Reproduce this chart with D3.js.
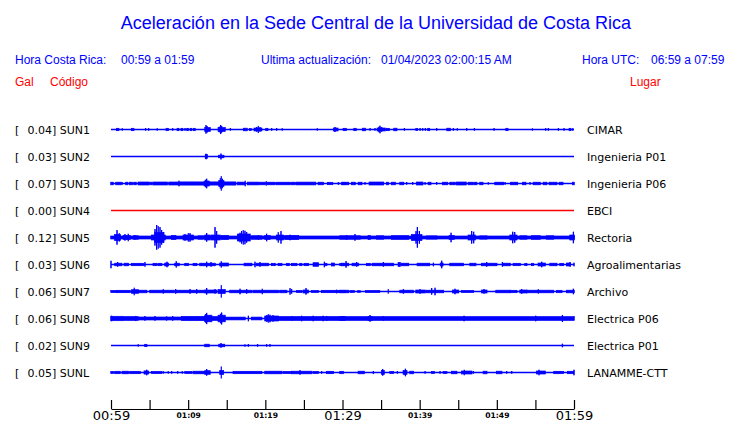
<!DOCTYPE html>
<html><head><meta charset="utf-8">
<script src="https://cdn.jsdelivr.net/npm/d3@7"></script>
<style>body{margin:0;background:#fff}svg{display:block}</style>
</head><body><script>
// ---------- data ----------
const stations = ["SUN1","SUN2","SUN3","SUN4","SUN5","SUN6","SUN7","SUN8","SUN9","SUNL"];
const places = ["CIMAR","Ingenieria P01","Ingenieria P06","EBCI","Rectoria","Agroalimentarias","Archivo","Electrica P06","Electrica P01","LANAMME-CTT"];
const peakGal = [0.04,0.03,0.07,0.00,0.12,0.03,0.06,0.06,0.02,0.05];
const majorTickLabels = ["00:59","01:29","01:59"];
const minorTickLabels = ["01:09","01:19","01:39","01:49"];
// each trace: [startMinute, endMinute, half amplitude in Gal]
const sun1 = [[0.73,0.99,0.012],[1.47,1.47,0.01],[2.68,2.94,0.012],[4.49,4.49,0.01],[4.88,4.88,0.01],[6.0,6.0,0.01],[7.17,7.39,0.012],[7.99,7.99,0.01],[8.6,8.77,0.012],[9.1,9.28,0.012],[9.59,9.59,0.01],[9.85,9.98,0.012],[10.28,10.45,0.012],[10.71,10.88,0.012],[12.18,12.83,0.02],[12.31,12.31,0.04],[12.45,12.45,0.03],[13.91,14.77,0.02],[14.21,14.21,0.042],[14.34,14.34,0.03],[14.05,14.05,0.025],[15.47,15.47,0.01],[17.19,17.62,0.013],[17.97,18.14,0.01],[18.57,19.52,0.015],[19.09,19.09,0.033],[18.88,18.88,0.02],[19.31,19.31,0.02],[20.09,20.3,0.012],[20.82,20.82,0.01],[21.47,21.47,0.01],[22.2,22.2,0.01],[26.74,26.74,0.01],[28.86,29.38,0.015],[29.03,29.03,0.022],[30.11,30.11,0.01],[30.2,30.46,0.012],[31.5,31.75,0.012],[32.62,32.96,0.013],[33.57,33.57,0.01],[34.21,34.21,0.01],[34.52,35.51,0.015],[34.86,34.86,0.035],[34.73,34.73,0.025],[35.08,35.08,0.02],[35.73,36.03,0.012],[36.68,37.02,0.013],[38.02,38.02,0.01],[39.53,39.7,0.01],[40.05,40.05,0.01],[40.39,40.39,0.01],[40.74,40.74,0.01],[41.08,41.26,0.012],[42.21,42.21,0.01],[43.55,43.94,0.013],[44.37,44.37,0.01],[44.88,44.88,0.01],[46.1,46.1,0.01],[47.09,47.09,0.01],[49.64,49.64,0.01],[51.2,51.41,0.012],[54.61,54.61,0.008],[56.33,56.33,0.01],[56.68,56.68,0.01],[57.98,57.98,0.01],[58.71,58.71,0.01],[59.4,59.57,0.012],[59.84,59.84,0.01]];
const sun2 = [[12.25,12.45,0.02],[12.31,12.31,0.025],[13.95,14.6,0.013],[14.25,14.25,0.027]];
const sun3 = [[0.0,0.26,0.013],[0.65,1.3,0.013],[1.47,1.47,0.01],[1.94,2.16,0.013],[2.42,2.76,0.013],[2.98,3.24,0.013],[3.54,4.92,0.015],[5.1,5.31,0.013],[5.49,7.3,0.015],[7.52,8.72,0.015],[8.81,8.81,0.025],[8.94,12.1,0.016],[12.1,12.7,0.025],[12.4,12.4,0.045],[12.27,12.27,0.035],[12.7,14.0,0.016],[14.0,14.6,0.03],[14.3,14.3,0.07],[14.17,14.17,0.05],[14.43,14.43,0.045],[14.6,16.15,0.016],[16.4,17.3,0.014],[17.4,17.4,0.025],[17.7,19.1,0.014],[19.3,19.96,0.013],[20.13,20.13,0.02],[20.3,21.25,0.013],[21.47,23.2,0.013],[23.4,23.85,0.013],[24.06,26.5,0.014],[26.87,27.5,0.013],[28.08,28.7,0.012],[29.46,29.5,0.01],[30.06,30.28,0.012],[29.9,30.76,0.013],[31.2,31.62,0.013],[32.06,32.49,0.013],[32.92,32.92,0.01],[33.48,35.3,0.015],[35.73,35.94,0.013],[36.38,36.81,0.013],[37.46,37.9,0.013],[38.32,38.32,0.01],[39.1,39.1,0.01],[39.62,40.39,0.015],[40.7,40.7,0.01],[41.13,41.43,0.013],[42.21,42.21,0.01],[42.99,43.59,0.013],[43.94,44.58,0.013],[44.8,46.0,0.015],[46.31,46.87,0.013],[47.05,47.39,0.013],[47.82,48.17,0.013],[48.9,48.9,0.01],[49.77,50.85,0.013],[51.07,51.07,0.01],[51.8,52.66,0.013],[53.35,53.74,0.013],[54.3,54.3,0.01],[54.74,55.6,0.013],[56.03,56.46,0.013],[56.81,57.16,0.013],[57.33,57.76,0.013],[58.1,58.54,0.013],[59.83,60,0.013]];
const sun4 = [];
const sun5 = [[0,60,0.015],[0.5,1.2,0.03],[0.78,0.78,0.07],[1.08,1.08,0.04],[1.6,2.46,0.02],[1.81,1.81,0.03],[2.24,2.24,0.035],[2.89,3.54,0.017],[3.11,3.11,0.02],[5.27,7.0,0.025],[5.7,6.8,0.05],[5.92,5.92,0.12],[6.13,6.13,0.11],[6.35,6.35,0.1],[5.7,5.7,0.08],[6.56,6.56,0.07],[6.82,6.82,0.05],[7.86,8.38,0.02],[9.37,10.67,0.025],[9.59,9.59,0.03],[10.02,10.02,0.04],[10.24,10.24,0.04],[11.32,11.96,0.017],[12.18,12.83,0.025],[12.4,12.4,0.04],[13.04,14.12,0.025],[13.48,13.48,0.1],[13.69,13.69,0.06],[14.34,15.2,0.02],[16.41,18.01,0.035],[16.72,16.72,0.045],[16.93,16.93,0.06],[17.15,17.15,0.07],[17.36,17.36,0.065],[17.58,17.58,0.05],[18.23,19.52,0.017],[19.09,19.09,0.02],[19.96,20.6,0.02],[20.17,20.17,0.035],[21.47,22.33,0.025],[21.68,21.68,0.05],[22.03,22.03,0.06],[22.55,24.28,0.02],[23.2,23.2,0.025],[29.68,32.27,0.017],[30.54,30.54,0.02],[31.62,31.62,0.03],[33.35,33.57,0.02],[34.43,35.3,0.017],[36.38,38.54,0.018],[38.97,40.26,0.03],[39.53,39.53,0.06],[39.7,39.7,0.1],[39.96,39.96,0.06],[40.91,42.21,0.016],[43.85,44.45,0.02],[44.07,44.07,0.045],[46.31,47.18,0.025],[46.74,46.74,0.06],[47.0,47.0,0.055],[47.82,48.69,0.016],[51.71,52.58,0.025],[52.06,52.06,0.055],[52.32,52.32,0.05],[53.01,53.87,0.017],[54.52,55.6,0.018],[56.46,57.33,0.017],[59.49,60,0.025],[59.92,59.92,0.055]];
const sun6 = [[0,0,0.035],[0.52,1.38,0.013],[0.86,0.86,0.02],[1.73,2.24,0.013],[2.68,4.19,0.012],[4.4,4.4,0.02],[5.48,5.92,0.012],[6.13,6.56,0.012],[7.0,7.43,0.015],[7.26,7.26,0.025],[8.29,8.81,0.013],[8.46,8.46,0.03],[9.59,10.02,0.012],[10.67,11.1,0.012],[11.53,13.48,0.013],[12.4,12.4,0.025],[12.96,12.96,0.02],[14.12,15.2,0.015],[14.3,14.3,0.03],[17.28,18.23,0.013],[18.66,18.66,0.025],[18.88,20.39,0.013],[19.31,19.31,0.02],[20.82,21.25,0.012],[21.68,22.12,0.012],[22.76,23.07,0.012],[23.41,24.06,0.012],[24.49,24.71,0.012],[25.05,25.57,0.012],[26.22,26.87,0.018],[27.65,27.65,0.025],[27.73,27.95,0.012],[28.6,28.94,0.015],[29.68,30.11,0.012],[29.9,30.76,0.013],[30.46,30.46,0.03],[31.28,32.06,0.013],[31.84,31.84,0.02],[33.14,33.57,0.012],[33.87,36.59,0.013],[35.3,35.3,0.02],[37.24,37.46,0.02],[37.67,38.54,0.013],[39.7,41.26,0.013],[41.78,41.78,0.015],[42.86,42.86,0.035],[42.7,43.0,0.015],[43.94,45.66,0.013],[46.53,47.26,0.013],[48.04,49.98,0.013],[48.69,48.69,0.02],[50.72,50.72,0.02],[50.85,51.71,0.013],[52.14,53.01,0.012],[53.66,53.87,0.012],[54.52,54.74,0.012],[55.38,56.25,0.015],[55.82,55.82,0.025],[56.9,57.76,0.013],[58.19,58.62,0.012],[59.06,59.49,0.015],[59.49,59.49,0.02],[60,60,0.015]];
const sun7 = [[0,0.73,0.01],[0.73,2.46,0.012],[2.68,3.54,0.018],[3.02,3.02,0.035],[3.54,4.62,0.013],[5.05,8.08,0.013],[6.78,6.78,0.02],[8.29,12.18,0.013],[8.38,8.38,0.02],[10.24,10.24,0.02],[11.1,11.1,0.02],[12.18,13.69,0.015],[12.4,12.4,0.03],[13.48,13.48,0.02],[13.91,14.77,0.02],[14.3,14.3,0.06],[15.42,18.23,0.013],[16.72,16.72,0.025],[17.58,17.58,0.02],[18.44,21.68,0.013],[19.61,19.61,0.025],[21.9,22.76,0.013],[23.2,23.2,0.03],[23.41,23.41,0.02],[24.06,24.71,0.01],[24.92,25.57,0.015],[25.27,25.27,0.03],[26.0,26.87,0.01],[27.3,30.32,0.012],[29.24,29.24,0.015],[29.68,30.76,0.013],[31.0,31.5,0.01],[32.0,32.3,0.008],[33.0,34.8,0.01],[35.94,35.94,0.02],[37.46,39.18,0.013],[37.89,37.89,0.02],[39.53,40.7,0.015],[40.05,40.05,0.02],[40.91,43.07,0.013],[41.56,41.56,0.03],[41.99,41.99,0.035],[44.28,45.02,0.015],[44.58,44.58,0.025],[45.45,46.96,0.01],[48.04,48.69,0.015],[48.34,48.34,0.02],[49.9,51.71,0.013],[51.71,52.58,0.012],[53.01,53.87,0.015],[53.22,53.22,0.02],[53.87,57.33,0.013],[55.38,55.38,0.02],[57.76,58.41,0.012],[59.06,60,0.013],[59.92,59.92,0.025]];
const sun8 = [[0,1.6,0.022],[0.08,0.08,0.025],[1.6,12.2,0.015],[1.8,3.5,0.018],[3.2,3.2,0.022],[4.4,4.4,0.02],[5.7,5.7,0.02],[7.2,7.2,0.018],[8.0,8.0,0.02],[9.16,12.18,0.02],[12.18,13.04,0.033],[12.4,12.4,0.053],[12.27,12.27,0.04],[13.04,13.91,0.02],[13.91,14.77,0.033],[14.34,14.34,0.057],[14.2,14.2,0.045],[14.77,17.36,0.014],[17.8,17.8,0.025],[18.23,19.52,0.014],[19.96,21.68,0.025],[20.39,20.39,0.04],[20.6,20.6,0.035],[20.2,20.2,0.03],[21.0,21.0,0.03],[21.68,23.41,0.02],[23.41,30.32,0.02],[24.7,24.7,0.025],[26.2,26.2,0.025],[27.5,27.5,0.025],[27.95,27.95,0.022],[29.68,60,0.019],[33.35,33.8,0.022],[33.57,33.57,0.03],[35.3,35.3,0.02],[45.75,45.75,0.025],[55.04,55.04,0.025],[58.5,58.5,0.032]];
const sun9 = [[3.54,3.54,0.01],[4.4,4.62,0.012],[12.18,12.7,0.013],[14.0,14.7,0.013],[14.25,14.25,0.02],[17.36,17.36,0.008],[17.8,17.8,0.01],[19.0,19.0,0.01],[20.17,20.17,0.01],[20.6,20.6,0.01],[58.5,58.5,0.015]];
const sunl = [[0,0.3,0.01],[0.52,1.16,0.012],[1.47,2.24,0.013],[2.46,3.76,0.012],[4.32,4.84,0.016],[4.62,4.62,0.025],[5.27,6.56,0.01],[6.78,6.78,0.01],[7.43,7.43,0.01],[7.86,7.86,0.01],[8.64,8.64,0.01],[9.24,9.24,0.01],[9.59,10.45,0.01],[10.67,12.18,0.013],[12.18,12.83,0.018],[12.4,12.4,0.03],[14.12,14.56,0.02],[14.3,14.3,0.057],[15.85,19.52,0.012],[19.96,22.12,0.013],[22.33,23.41,0.01],[23.41,26.0,0.013],[24.49,24.49,0.02],[26.22,26.87,0.01],[27.3,27.3,0.01],[27.95,28.81,0.012],[29.68,30.11,0.012],[32.06,32.79,0.013],[34.0,34.0,0.012],[35.08,35.38,0.02],[35.21,35.21,0.03],[36.16,36.59,0.01],[37.11,37.11,0.01],[37.89,38.32,0.02],[38.15,38.15,0.035],[38.75,39.18,0.013],[40.7,40.7,0.01],[41.56,41.9,0.01],[42.64,42.64,0.01],[43.07,43.5,0.01],[44.15,44.8,0.013],[45.45,46.74,0.015],[45.79,45.79,0.025],[46.96,46.96,0.01],[48.26,48.69,0.013],[49.98,50.63,0.013],[51.28,51.28,0.01],[51.93,51.93,0.01],[55.17,56.25,0.015],[55.47,55.47,0.025],[57.41,58.19,0.012],[58.32,58.62,0.01],[59.19,59.92,0.012],[60,60,0.025]];
const traces = [sun1,sun2,sun3,sun4,sun5,sun6,sun7,sun8,sun9,sunl];

// ---------- drawing ----------
const W = 740, H = 423;
const BLUE = "#0000ff", RED = "#ff0000";
const svg = d3.select("body").append("svg").attr("width", W).attr("height", H);

const t0 = new Date(2023, 0, 4, 0, 59);
const at = m => new Date(+t0 + m * 60000);
const x = d3.scaleTime().domain([at(0), at(60)]).range([111, 574]);
const y = d3.scalePoint().domain(stations).range([129.5, 372.5]);
const amp = d3.scaleLinear().domain([-0.135, 0.135]).range([13.5, -13.5]);

// header
svg.append("text").attr("x", 376).attr("y", 29).attr("text-anchor", "middle")
  .attr("font-family", "Liberation Sans, Arial, sans-serif").attr("font-size", 18)
  .attr("fill", BLUE).text("Aceleración en la Sede Central de la Universidad de Costa Rica");
const hdr = [
  [15, 64, "Hora Costa Rica:", BLUE], [121, 64, "00:59 a 01:59", BLUE],
  [261, 64, "Ultima actualización:", BLUE], [381, 64, "01/04/2023 02:00:15 AM", BLUE],
  [582, 64, "Hora UTC:", BLUE], [651, 64, "06:59 a 07:59", BLUE],
  [15, 86, "Gal", RED], [50, 86, "Código", RED], [630, 86, "Lugar", RED]
];
svg.append("g").selectAll("text").data(hdr).join("text")
  .attr("x", d => d[0]).attr("y", d => d[1]).attr("fill", d => d[3])
  .attr("font-family", "Liberation Sans, Arial, sans-serif").attr("font-size", 12)
  .text(d => d[2]);

// rows
const rows = svg.append("g").selectAll("g").data(stations).join("g")
  .attr("transform", d => `translate(0,${y(d)})`);

rows.append("text").attr("x", 15).attr("y", 4)
  .attr("font-family", "DejaVu Sans, sans-serif").attr("font-size", 11).text("[");
rows.append("text").attr("x", 27.5).attr("y", 4)
  .attr("font-family", "DejaVu Sans, sans-serif").attr("font-size", 11)
  .text((d, i) => `${peakGal[i].toFixed(2)}] ${d}`);
rows.append("text").attr("x", 587).attr("y", 4)
  .attr("font-family", "DejaVu Sans, sans-serif").attr("font-size", 11)
  .text((d, i) => places[i]);

const colorOf = i => peakGal[i] === 0 && traces[i].length === 0 ? RED : BLUE;

rows.append("line")
  .attr("x1", x(at(0))).attr("x2", x(at(60)))
  .attr("y1", 0).attr("y2", 0)
  .attr("stroke", (d, i) => colorOf(i)).attr("stroke-width", 1.3);

rows.each(function (d, i) {
  d3.select(this).append("g").attr("fill", colorOf(i))
    .attr("stroke", colorOf(i)).attr("stroke-width", 0.7)
    .selectAll("rect").data(traces[i]).join("rect")
    .attr("x", f => x(at(f[0])) - 0.3)
    .attr("width", f => Math.max(0.6, x(at(f[1])) - x(at(f[0])) + 0.6))
    .attr("y", f => amp(f[2]))
    .attr("height", f => amp(-f[2]) - amp(f[2]));
});

// time axis
const fmt = d3.timeFormat("%H:%M");
const axis = d3.axisBottom(x)
  .tickValues(d3.range(0, 61, 5).map(at))
  .tickSizeInner(-9).tickSizeOuter(0).tickPadding(2)
  .tickFormat(d => {
    const s = fmt(d);
    return majorTickLabels.includes(s) || minorTickLabels.includes(s) ? s : "";
  });
const ax = svg.append("g").attr("transform", "translate(0,409)").call(axis);
ax.select(".domain").attr("stroke", "#000").attr("stroke-width", 1.2);
ax.selectAll(".tick line").attr("stroke", "#000").attr("stroke-width", 1.2);
ax.selectAll(".tick text").attr("fill", "#000")
  .attr("font-family", "DejaVu Sans, sans-serif")
  .each(function (d) {
    const s = fmt(d);
    const big = majorTickLabels.includes(s);
    d3.select(this)
      .attr("font-size", big ? 13 : 7.6)
      .attr("font-weight", big ? "normal" : "bold")
      .attr("y", big ? 2 : 3.2);
  });
</script></body></html>
